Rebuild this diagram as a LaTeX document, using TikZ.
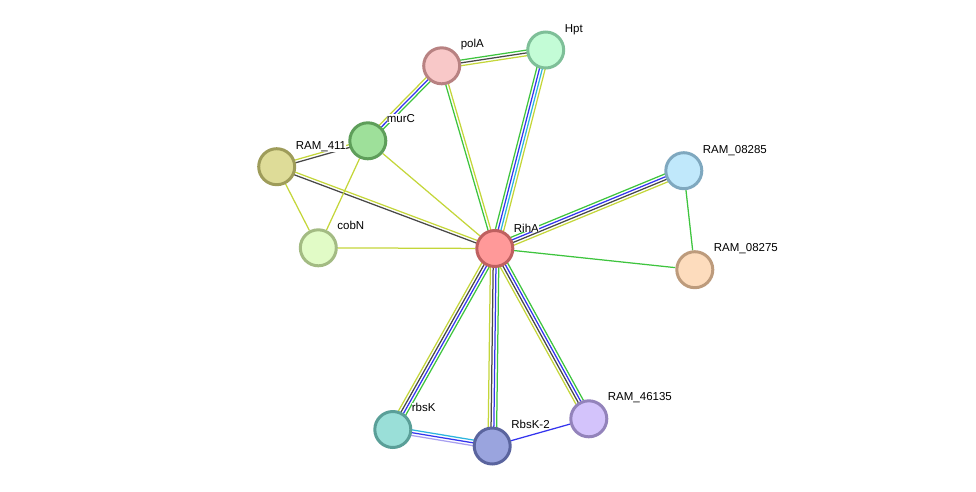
\documentclass[tikz,border=0pt]{standalone}
\usepackage{fontspec}
\setmainfont{Liberation Sans}
\usepackage{xcolor}
\usepackage{tikz}
\usetikzlibrary{calc,backgrounds}

\pgfdeclarelayer{labels}
\pgfsetlayers{background,labels,main}

% evidence colours
\definecolor{evgreen}{RGB}{62,196,62}
\definecolor{evblue}{RGB}{52,52,238}
\definecolor{evcyan}{RGB}{44,180,222}
\definecolor{evyellow}{RGB}{196,214,58}
\definecolor{evgray}{RGB}{72,72,72}
\definecolor{evlav}{RGB}{168,160,240}

\tikzset{
  protein/.style={draw, circle, line width=3pt, minimum size=36pt, inner sep=0pt},
  link/.style={line width=1.25pt},
  plabel/.style={anchor=base west, font=\fontsize{11.5}{13}\selectfont, fill=white, inner sep=0.4pt}
}

% one line per evidence channel, side by side
\newcommand{\evlink}[3]{%
  \foreach \c [count=\i] in {#3} {\xdef\nlines{\i}}%
  \foreach \c [count=\i] in {#3} {%
    \pgfmathsetmacro\off{(\i-(\nlines+1)/2)*2.8}%
    \draw[link, \c] ($(#1)!\off pt!90:(#2)$) -- ($(#2)!\off pt!-90:(#1)$);
  }}

\begin{document}
\begin{tikzpicture}[x=1pt, y=-1pt]
    \useasboundingbox (0,0) rectangle (976,491);

    \node[protein, fill={rgb,255:red,255;green,153;blue,153}, draw={rgb,255:red,191;green,96;blue,96}] (riha) at (494.8,248.5) {};
    \node[protein, fill={rgb,255:red,248;green,200;blue,200}, draw={rgb,255:red,184;green,130;blue,130}] (pola) at (441.7,65.8) {};
    \node[protein, fill={rgb,255:red,195;green,252;blue,214}, draw={rgb,255:red,126;green,191;blue,152}] (hpt) at (545.7,50) {};
    \node[protein, fill={rgb,255:red,158;green,224;blue,154}, draw={rgb,255:red,94;green,158;blue,90}] (murc) at (367.8,140.8) {};
    \node[protein, fill={rgb,255:red,222;green,220;blue,152}, draw={rgb,255:red,158;green,156;blue,90}] (ram411) at (276.7,166.7) {};
    \node[protein, fill={rgb,255:red,225;green,251;blue,198}, draw={rgb,255:red,163;green,187;blue,131}] (cobn) at (318.3,247.8) {};
    \node[protein, fill={rgb,255:red,192;green,232;blue,251}, draw={rgb,255:red,127;green,168;blue,191}] (ram08285) at (683.8,170.7) {};
    \node[protein, fill={rgb,255:red,253;green,220;blue,189}, draw={rgb,255:red,189;green,155;blue,124}] (ram08275) at (694.8,269.7) {};
    \node[protein, fill={rgb,255:red,154;green,223;blue,216}, draw={rgb,255:red,90;green,159;blue,152}] (rbsk) at (392.8,429.5) {};
    \node[protein, fill={rgb,255:red,154;green,164;blue,222}, draw={rgb,255:red,90;green,100;blue,158}] (rbsk2) at (492.2,446) {};
    \node[protein, fill={rgb,255:red,211;green,195;blue,251}, draw={rgb,255:red,147;green,131;blue,187}] (ram46135) at (588.8,418.8) {};

    % edges behind the proteins
    \begin{scope}[on background layer]
        \evlink{riha}{hpt}{evyellow,evcyan,evblue,evgreen}
        \evlink{riha}{ram08285}{evyellow,evgray,evblue,evgreen}
        \evlink{riha}{rbsk}{evyellow,evgray,evblue,evgreen}
        \evlink{riha}{rbsk2}{evyellow,evgray,evblue,evgreen}
        \evlink{riha}{ram46135}{evyellow,evgray,evblue,evgreen}
        \evlink{riha}{pola}{evyellow,evgreen}
        \evlink{riha}{ram411}{evyellow,evgray}
        \evlink{pola}{hpt}{evyellow,evgray,evgreen}
        \evlink{pola}{murc}{evyellow,evblue,evgreen}
        \evlink{murc}{ram411}{evyellow,evgray}
        \evlink{rbsk}{rbsk2}{evlav,evblue,evcyan}
        \draw[link, evyellow] (riha) -- (murc);
        \draw[link, evyellow] (riha) -- (cobn);
        \draw[link, evyellow] (murc) -- (cobn);
        \draw[link, evyellow] (ram411) -- (cobn);
        \draw[link, evgreen] (riha) -- (ram08275);
        \draw[link, evgreen] (ram08285) -- (ram08275);
        \draw[link, evblue] (rbsk2) -- (ram46135);
    \end{scope}

    % names, above the edges but under the proteins
    \begin{pgfonlayer}{labels}
    \node[plabel] (lriha) at ($(riha)+(18.5,-16.5)$) {RihA};
    \node[plabel] (lpola) at ($(pola)+(18.5,-18)$) {polA};
    \node[plabel] (lhpt) at ($(hpt)+(18.5,-18)$) {Hpt};
    \node[plabel] (lmurc) at ($(murc)+(18.5,-18)$) {murC};
    \node[plabel] (lram411) at ($(ram411)+(18.5,-17.5)$) {RAM\_411};
    \node[plabel] (lcobn) at ($(cobn)+(18.5,-18)$) {cobN};
    \node[plabel] (lram08285) at ($(ram08285)+(18.5,-17)$) {RAM\_08285};
    \node[plabel] (lram08275) at ($(ram08275)+(18.5,-18)$) {RAM\_08275};
    \node[plabel] (lrbsk) at ($(rbsk)+(18.5,-18)$) {rbsK};
    \node[plabel] (lrbsk2) at ($(rbsk2)+(18.5,-18)$) {RbsK-2};
    \node[plabel] (lram46135) at ($(ram46135)+(18.5,-18)$) {RAM\_46135};
    \end{pgfonlayer}
\end{tikzpicture}
\end{document}
